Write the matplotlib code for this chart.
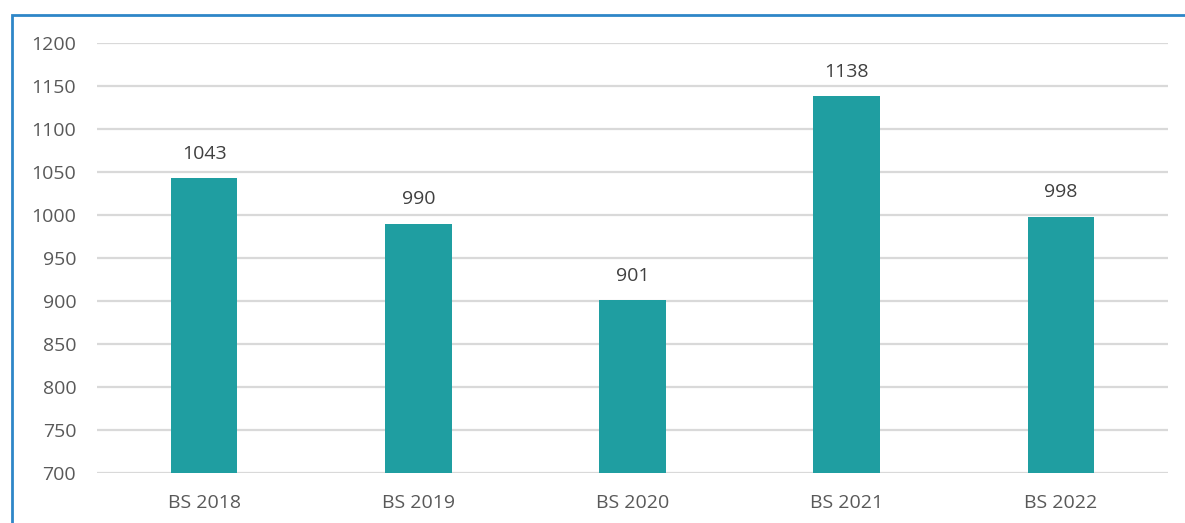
import matplotlib
matplotlib.use("Agg")
import matplotlib.pyplot as plt
from matplotlib.patches import Rectangle

categories = ["BS 2018", "BS 2019", "BS 2020", "BS 2021", "BS 2022"]
values = [1043, 990, 901, 1138, 998]
yticks = [700, 750, 800, 850, 900, 950, 1000, 1050, 1100, 1150, 1200]

plt.rcParams['font.family'] = ['Open Sans', 'DejaVu Sans']

W, H = 1185, 523
fig = plt.figure(figsize=(W / 100, H / 100), dpi=100)
ax = fig.add_axes([97 / W, 1 - 473 / H, (1168 - 97) / W, (473 - 43) / H])

x = list(range(len(categories)))
ax.bar(x, values, width=0.31, color="#1f9ea1", zorder=3)
for xi, v in zip(x, values):
    ax.annotate(str(v), (xi, v), xytext=(0, 11), textcoords="offset points",
                ha="center", va="bottom", fontsize=14, color="#404040")

ax.set_xlim(-0.5, len(categories) - 0.5)
ax.set_ylim(700, 1200)
ax.set_yticks(yticks)
ax.set_xticks(x)
ax.set_xticklabels(categories)
ax.tick_params(axis="both", length=0, labelsize=14, labelcolor="#595959")
ax.tick_params(axis="y", pad=15)
ax.tick_params(axis="x", pad=15)
ax.grid(axis="y", color="#d9d9d9", linewidth=1.6, zorder=0)
for s in ax.spines.values():
    s.set_visible(False)

fig.patches.append(Rectangle((12 / W, -0.1), 1.2, 1 - 15 / H + 0.1,
                             transform=fig.transFigure, fill=False,
                             edgecolor="#2e86c8", linewidth=2))

fig.savefig("out.png", dpi=100)
